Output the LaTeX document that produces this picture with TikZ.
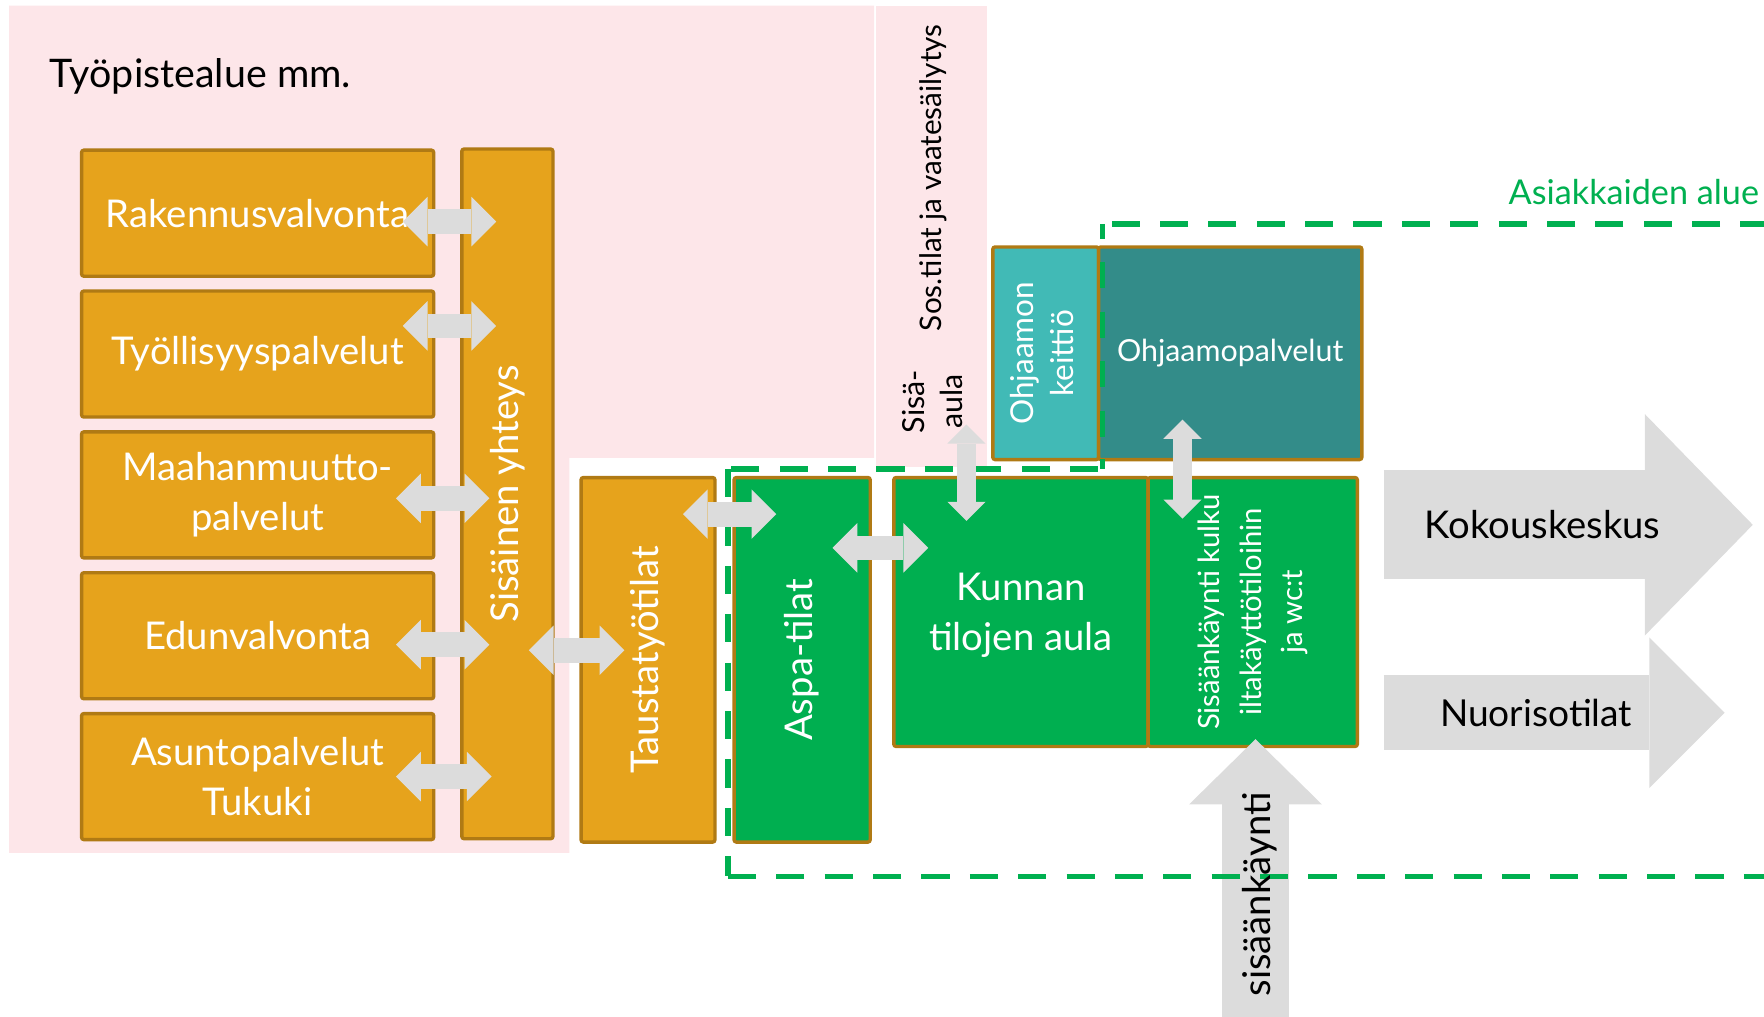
\documentclass[tikz,border=0pt]{standalone}
\usepackage{fontspec}
\setmainfont{Lato}
\usetikzlibrary{positioning,calc,arrows.meta}

\definecolor{pinkbg}{HTML}{FDE6E9}
\definecolor{roomorange}{HTML}{E6A31C}
\definecolor{roomedge}{HTML}{B07A14}
\definecolor{roomgreen}{HTML}{00AF50}
\definecolor{tealLight}{HTML}{41BAB6}
\definecolor{tealDark}{HTML}{338C89}
\definecolor{arrowgray}{HTML}{DCDCDC}
\definecolor{clientgreen}{HTML}{00B050}

\begin{document}
\begin{tikzpicture}[x=0.5pt,y=-0.5pt,
    room node/.style={draw=roomedge,line width=1.5pt,rounded corners=1pt,inner sep=0pt,text=white,align=center,font=\fontsize{17}{22}\selectfont},
    work node/.style={room node,fill=roomorange,minimum width=156.5pt,minimum height=56pt},
    green node/.style={room node,fill=roomgreen},
    gray arrow/.style={draw=arrowgray,line width=11pt,{Triangle[width=22pt,length=11pt,line width=0pt]}-{Triangle[width=22pt,length=11pt,line width=0pt]}},
    small arrow/.style={draw=arrowgray,line width=8.5pt,{Triangle[width=17pt,length=8.5pt,line width=0pt]}-{Triangle[width=17pt,length=8.5pt,line width=0pt]}},
    client line/.style={draw=clientgreen,line width=2.5pt,dash pattern=on 12.5pt off 9pt},
    client dash/.style={draw=clientgreen,line width=2.5pt},
    dark text/.style={text=black,font=\fontsize{17}{21}\selectfont}]

    \useasboundingbox (0,0) rectangle (1568,904);

    % pink work area
    \fill[pinkbg] (8,5) -- (777,5) -- (777,407) -- (506,407) -- (506,758) -- (8,758) -- cycle;
    \node[fill=pinkbg,minimum width=49pt,minimum height=205pt,inner sep=0pt] (sos) at (828,210) {};

    \node[dark text,anchor=base west,inner sep=0pt,font=\fontsize{17.5}{21}\selectfont] (title) at (44,78) {Työpistealue mm.};
    \node[dark text,rotate=90,font=\fontsize{13.2}{16}\selectfont] (sostext) at (830,158) {Sos.tilat ja vaatesäilytys};
    \node[dark text,rotate=90,align=center,font=\fontsize{13.5}{17}\selectfont] (aula) at (829,357) {Sisä-\\aula};

    % rooms
    \node[work node] (rak) at (229,189.5) {Rakennusvalvonta};
    \node[work node] (tyol) [below=5.1pt of rak] {Työllisyyspalvelut};
    \node[work node] (maah) [below=5.1pt of tyol] {Maahanmuutto-\\palvelut};
    \node[work node] (edun) [below=5.1pt of maah] {Edunvalvonta};
    \node[work node] (asun) [below=5.1pt of edun] {Asuntopalvelut\\Tukuki};
    \node[work node,minimum width=40.5pt,minimum height=306.5pt] (sis) at (451,439) {\rotatebox{90}{Sisäinen yhteys}};
    \node[work node,minimum width=59.5pt,minimum height=162pt] (taus) at (576,586.5) {\rotatebox{90}{Taustatyötilat}};
    \node[green node,minimum width=60.5pt,minimum height=162pt] (aspa) at (713,586.5) {\rotatebox{90}{Aspa-tilat}};
    \node[green node,minimum width=113pt,minimum height=119.5pt,text depth=-3pt] (kunn) at (907.5,544) {Kunnan\\tilojen aula};
    \node[green node,minimum width=93pt,minimum height=119.5pt,font=\fontsize{13}{18.5}\selectfont] (kulku) [right=-1.5pt of kunn]
        {\rotatebox{90}{\begin{tabular}{@{}c@{}}Sisäänkäynti kulku\\iltakäyttötiloihin\\ja wc:t\end{tabular}}};
    \node[room node,fill=tealLight,minimum width=47pt,minimum height=94.5pt,font=\fontsize{14}{17.5}\selectfont] (keit) at (929.5,314)
        {\rotatebox{90}{\begin{tabular}{@{}c@{}}Ohjaamon\\keittiö\end{tabular}}};
    \node[room node,fill=tealDark,minimum width=117pt,minimum height=94.5pt,font=\fontsize{13.5}{16}\selectfont] (palv) [right=-1.5pt of keit] {\raisebox{-2.5pt}{Ohjaamopalvelut}};

    % entrance arrow
    \draw[draw=arrowgray,line width=30pt,-{Triangle[width=59pt,length=29pt,line width=0pt]}]
        ($(kulku.south)+(2.5,239)$) -- ($(kulku.south)+(2.5,-8)$);

    % customer area
    \draw[client line] (1572,199) -- (980,199);
    \draw[client dash] (980,199) -- (980,212);
    \foreach \y in {233,277,321,365}
        \draw[client dash] (980,\y) -- ++(0,23);
    \draw[client dash] (980,408) -- (980,417);
    \draw[client line] (976,417) -- (647,417);
    \foreach \y in {417,460,...,718}
        \draw[client dash] (647,\y) -- ++(0,25);
    \draw[client dash] (647,761) -- (647,779);
    \draw[client line] (647,779) -- (1572,779);
    \node[anchor=base east,inner sep=0pt,text=clientgreen,font=\fontsize{15.2}{18}\selectfont] (asiak) at (1564,182) {Asiakkaiden alue};

    % connections
    \draw[gray arrow] ($(rak.east)+(-29,7.5)$) -- ($(sis.west |- rak.east)+(32,7.5)$);
    \draw[gray arrow] ($(tyol.east)+(-29,-25)$) -- ($(sis.west |- tyol.east)+(32,-25)$);
    \draw[gray arrow] ($(maah.east)+(-35,3)$) -- ($(sis.west |- maah.east)+(26,3)$);
    \draw[gray arrow] ($(edun.east)+(-35,8)$) -- ($(sis.west |- edun.east)+(26,8)$);
    \draw[gray arrow] ($(asun.east)+(-35,0)$) -- ($(sis.west |- asun.east)+(28,0)$);
    \draw[gray arrow] ($(sis.east |- taus.west)+(-23,-8.5)$) -- ($(taus.west)+(40,-8.5)$);
    \draw[gray arrow] ($(taus.east)+(-30,-129.5)$) -- ($(aspa.west)+(39,-129.5)$);
    \draw[gray arrow] ($(aspa.east |- kunn.west)+(-35,-57)$) -- ($(kunn.west)+(32,-57)$);
    \draw[small arrow] ($(sos.south)+(31,-38)$) -- ($(kunn.north -| sos.south)+(31,40)$);
    \draw[small arrow] ($(palv.south)+(-42.5,-37)$) -- ($(kulku.north)+(-62.5,38)$);

    % ways out
    \draw[draw=arrowgray,line width=48.5pt,-{Triangle[width=98.5pt,length=48pt,line width=0pt]}]
        ($(kulku.east)+(22,-77.5)$) -- node[dark text,pos=0.43] (kokous) {Kokouskeskus} ($(kulku.east)+(350,-77.5)$);
    \draw[draw=arrowgray,line width=33.5pt,-{Triangle[width=67pt,length=33.5pt,line width=0pt]}]
        ($(kulku.east)+(22,89.5)$) -- node[dark text,pos=0.447,font=\fontsize{16.5}{20}\selectfont] (nuoriso) {Nuorisotilat} ($(kulku.east)+(325,89.5)$);

    \node[dark text,rotate=90] (sisaan) at ($(kulku.south)+(6.5,130)$) {sisäänkäynti};

\end{tikzpicture}
\end{document}
